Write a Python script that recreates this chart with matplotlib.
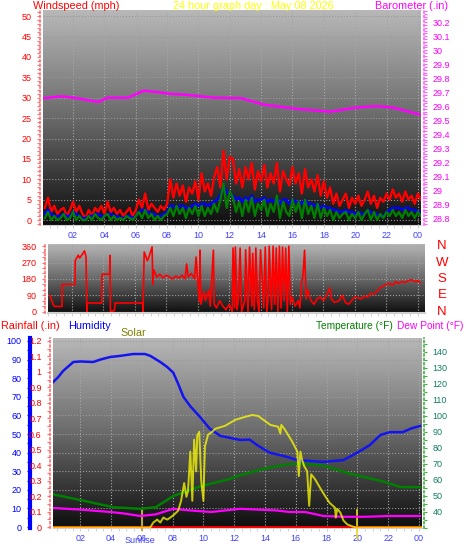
import numpy as np
import matplotlib
matplotlib.use('Agg')
from matplotlib import pyplot as plt
from matplotlib.colors import LinearSegmentedColormap
from matplotlib.ticker import MultipleLocator, FixedLocator
import matplotlib.transforms as mtrans

plt.rcParams['font.family'] = ['Liberation Sans', 'DejaVu Sans']

# ---- data ----
# wind (mph), one sample every 12 minutes from 00:12
wind_hours = np.linspace(0.2, 24.2, 121)
gust = [3.0, 5.5, 2.0, 3.5, 1.5, 2.5, 3.0, 1.0, 2.5, 4.5,
        2.0, 3.5, 1.5, 0.5, 2.5, 1.0, 3.0, 2.0, 3.5, 1.5,
        4.5, 2.0, 3.0, 1.5, 2.5, 1.0, 2.0, 3.0, 1.0, 2.5,
        5.0, 3.0, 6.5, 2.5, 4.0, 3.0, 2.0, 3.5, 2.5, 4.0,
        10.0, 5.5, 9.0, 6.0, 8.5, 4.5, 8.0, 6.5, 9.5, 5.0,
        11.5, 7.0, 9.0, 6.0, 10.5, 13.0, 8.0, 17.0, 10.0, 15.5,
        15.0, 9.0, 12.5, 8.0, 13.0, 10.0, 14.0, 7.5, 12.0, 9.5,
        13.5, 8.0, 11.5, 9.0, 14.0, 7.0, 12.0, 10.0, 8.5, 13.0,
        9.0, 11.5, 6.5, 12.5, 8.0, 10.0, 7.0, 11.0, 6.0, 9.5,
        5.5, 8.0, 4.0, 6.5, 3.5, 5.0, 6.5, 3.0, 5.5, 4.0,
        6.0, 3.5, 5.0, 7.0, 4.0, 6.0, 3.0, 5.5, 4.5, 6.5,
        5.0, 7.5, 5.5, 6.5, 4.5, 7.0, 5.0, 6.0, 4.0, 6.5, 5.0]
avg = [1.5, 2.5, 1.5, 1.0, 1.0, 1.0, 1.5, 1.0, 1.0, 2.0,
       1.5, 1.0, 0.5, 0.5, 1.0, 1.0, 1.5, 1.5, 1.0, 1.0,
       1.5, 1.5, 1.0, 1.0, 0.5, 0.5, 1.0, 1.0, 0.5, 1.0,
       2.0, 2.5, 2.5, 2.0, 1.5, 1.5, 1.0, 1.0, 1.5, 2.0,
       3.5, 3.5, 3.0, 3.5, 3.5, 3.0, 3.0, 3.5, 4.0, 3.5,
       4.0, 4.0, 3.5, 4.0, 4.5, 5.0, 6.0, 8.5, 7.0, 6.0,
       6.0, 5.0, 5.5, 4.5, 5.5, 5.0, 6.0, 4.5, 5.0, 5.0,
       5.5, 4.5, 5.0, 4.5, 5.5, 4.0, 5.0, 5.0, 4.0, 5.0,
       4.5, 4.5, 4.0, 5.0, 4.0, 4.0, 3.5, 4.0, 3.0, 3.5,
       3.0, 3.0, 2.5, 2.5, 2.0, 2.0, 2.5, 2.0, 2.0, 1.5,
       2.0, 1.5, 1.5, 2.5, 2.0, 1.5, 1.5, 1.0, 1.0, 2.0,
       2.5, 3.0, 3.0, 3.0, 2.5, 3.0, 3.0, 2.5, 2.5, 2.0, 2.0]
speed = [0.5, 2.0, 0.0, 1.0, 0.0, 0.5, 1.5, 0.0, 0.5, 2.0,
         0.0, 1.0, 0.0, 0.0, 1.0, 0.0, 1.5, 0.5, 0.0, 1.0,
         1.5, 0.0, 1.0, 0.0, 0.5, 0.0, 1.0, 0.5, 0.0, 1.0,
         2.0, 0.5, 2.5, 0.5, 1.5, 0.0, 1.0, 0.0, 1.0, 1.5,
         3.0, 1.0, 3.5, 1.5, 3.0, 0.5, 3.0, 1.5, 3.5, 1.0,
         3.5, 1.0, 3.0, 1.5, 4.0, 2.0, 5.0, 9.0, 3.0, 7.0,
         5.5, 2.0, 4.5, 1.0, 5.0, 2.0, 5.5, 1.0, 4.0, 2.5,
         5.0, 1.0, 4.0, 2.0, 6.0, 0.5, 4.5, 2.0, 1.0, 5.0,
         2.0, 4.5, 0.5, 5.0, 1.5, 3.5, 0.5, 4.0, 0.5, 3.0,
         1.0, 2.5, 0.0, 2.0, 0.5, 1.5, 2.0, 0.0, 1.5, 0.5,
         2.0, 0.0, 1.5, 2.5, 0.0, 2.0, 0.0, 1.5, 0.5, 2.0,
         1.0, 2.5, 1.0, 2.0, 0.5, 2.5, 1.0, 2.0, 0.5, 2.0, 1.0]

baro_hours = [0.16, 1.24, 2.07, 3.6, 4.2, 5.5, 6.5, 7.4, 8.0, 9.3, 11.0,
              12.7, 14.2, 16.3, 18.4, 20.1, 21.4, 22.4, 24.1]
baro = [29.657, 29.67, 29.66, 29.63, 29.66, 29.66, 29.71, 29.70, 29.69, 29.68,
        29.66, 29.657, 29.61, 29.58, 29.56, 29.59, 29.60, 29.59, 29.54]

dir_hours = [0.6, 0.8, 0.9, 1.37, 1.38, 2.2, 2.21, 2.4, 2.5, 2.7, 2.8, 2.9, 2.95,
             2.97, 3.9, 3.92, 4.4, 4.42, 4.45, 4.7, 4.75, 6.5, 6.52, 6.6, 6.8,
             6.9, 7.1, 7.15, 7.2, 7.4, 7.6, 7.8, 8.0, 8.2, 8.4, 8.6, 8.8, 9.0,
             9.2, 9.3, 9.4, 9.6, 9.8, 9.9, 10.0, 10.1, 10.15, 10.2, 10.4, 10.5,
             10.7, 10.8, 11.0, 11.05, 11.2, 11.4, 11.6, 11.8, 12.0, 12.2, 12.25,
             12.35, 12.4, 12.5, 12.6, 12.7, 12.8, 13.0, 13.05, 13.2, 13.3, 13.45,
             13.5, 13.6, 13.7, 13.8, 13.9, 14.0, 14.2, 14.3, 14.4, 14.5, 14.55,
             14.7, 14.8, 14.9, 15.0, 15.1, 15.2, 15.3, 15.4, 15.5, 15.6, 15.7,
             15.8, 15.9, 16.0, 16.2, 16.4, 16.5, 16.6, 16.7, 16.8, 16.9, 17.0,
             17.2, 17.4, 17.6, 17.8, 18.0, 18.2, 18.4, 18.5, 18.7, 19.0, 19.2,
             19.4, 19.6, 19.8, 20.0, 20.2, 20.4, 20.6, 20.8, 21.0, 21.2, 21.4,
             21.6, 21.8, 22.0, 22.2, 22.4, 22.6, 22.8, 23.0, 23.2, 23.4, 23.6,
             23.8, 24.0, 24.15]
dir_deg = [90, 40, 28, 28, 150, 150, 280, 310, 295, 320, 334, 300, 0,
           47, 47, 206, 206, 309, 0, 5, 47, 47, 0, 328, 280,
           300, 356, 150, 230, 190, 205, 185, 200, 190, 180, 195, 185, 200,
           180, 262, 190, 210, 180, 300, 180, 56, 338, 40, 110, 60,
           120, 30, 338, 40, 20, 60, 30, 10, 40, 0, 350,
           20, 355, 10, 80, 350, 0, 60, 340, 0, 355, 30,
           320, 10, 350, 60, 0, 340, 20, 355, 0, 100, 360,
           10, 360, 40, 350, 0, 360, 20, 355, 60, 350, 0,
           360, 40, 80, 30, 60, 20, 150, 200, 338, 70, 120,
           60, 40, 70, 80, 60, 90, 130, 70, 50, 60, 90,
           50, 40, 60, 80, 75, 70, 85, 80, 100, 95, 110,
           130, 140, 150, 155, 145, 165, 155, 165, 160, 170, 175,
           165, 170, 160]

hum_hours = [0.25, 0.57, 0.9, 1.55, 2.0, 2.84, 3.3, 3.95, 4.6, 5.44, 6.2, 6.55,
             7.2, 7.65, 8.04, 8.36, 8.7, 9.14, 9.8, 10.4, 11.1, 12.4, 13.0, 13.5,
             14.3, 15.3, 16.1, 16.9, 17.8, 19.1, 20.0, 20.8, 21.5, 22.1, 22.95,
             23.5, 24.07]
humidity = [78, 80.6, 84, 88.7, 89, 88.7, 90, 91.4, 92, 93, 93, 92,
            88.7, 86, 83, 77, 70, 65, 59, 53, 49, 46.8, 47, 44,
            40, 38, 36, 35.5, 35, 36, 40, 44, 49.5, 51, 51,
            53, 54.3]

temp_hours = [0.25, 2.0, 4.15, 5.9, 6.9, 8.04, 9.8, 11.7, 12.4, 13.9, 15.6,
              16.6, 17.8, 19.5, 21.7, 22.8, 24.07]
temperature = [51, 47.5, 43, 42, 43, 50, 56, 60.6, 63, 67, 70,
               70, 69, 64, 59, 55.6, 55.5]

dew_hours = [0.25, 2.0, 3.95, 4.9, 5.9, 6.9, 8.04, 9.1, 10.5, 12.4, 13.5, 14.7,
             15.6, 16.6, 17.8, 19.2, 20.4, 22.1, 24.07]
dew_point = [42.5, 41.5, 40, 39, 37.5, 38.5, 42, 41, 40, 42, 41.5, 41,
             40, 40, 37.5, 37, 37, 37.5, 37.5]

solar_hours = [0.25, 6.5, 6.55, 6.74, 7.0, 7.2, 7.4, 7.65, 7.85, 8.1, 8.36, 8.55,
               8.75, 8.9, 9.0, 9.15, 9.28, 9.4, 9.53, 9.6, 9.73, 9.86, 10.0,
               10.1, 10.3, 10.57, 10.77, 11.4, 12.07, 12.7, 13.17, 13.55, 13.9,
               14.35, 14.86, 15.0, 15.06, 15.3, 15.77, 16.1, 16.2, 16.3, 16.4,
               16.55, 16.74, 16.87, 17.0, 17.25, 17.58, 17.9, 18.2, 18.55, 18.6,
               18.7, 18.9, 19.1, 19.35, 19.7, 19.9, 24.2]
solar = [0, 0, 0, 26, 42, 26, 53, 42, 53, 69, 90, 143,
         238, 164, 196, 407, 143, 471, 301, 492, 513, 249, 143,
         434, 497, 513, 529, 545, 577, 593, 603, 598, 577,
         550, 540, 503, 550, 524, 460, 407, 275, 407, 365,
         328, 301, 116, 285, 259, 212, 169, 132, 106, 53,
         100, 79, 37, 16, 5, 0, 0]

rain_hours = [0.25, 24.2]
rain = [0.0, 0.0]

sunrise_hour = 6.0
sunset_hour = 20.0

hour_ticks = [2, 4, 6, 8, 10, 12, 14, 16, 18, 20, 22, 24]
hour_labels = ['02', '04', '06', '08', '10', '12', '14', '16', '18', '20', '22', '00']
dir_ticks = [0, 90, 180, 270, 360]
compass = ['N', 'E', 'S', 'W', 'N']

# ---- figure ----
W, H = 470, 554
PT = 0.72  # points per pixel at 100 dpi
fig = plt.figure(figsize=(4.7, 5.54), dpi=100)
fig.patch.set_facecolor('white')

def box(left, top, right, bottom):
    return [left / W, 1 - bottom / H, (right - left) / W, (bottom - top) / H]

def ftext(x, y, s, **kw):
    fig.text(x / W, 1 - y / H, s, **kw)

bg = LinearSegmentedColormap.from_list('bg', ['#0e0e0e', '#6a6a6a', '#b8b8b8'])
time_blue = '#4040ff'

def shade(ax, xlim, ylim):
    grad = np.linspace(1, 0, 256).reshape(-1, 1)
    ax.imshow(grad, extent=[xlim[0], xlim[1], ylim[0], ylim[1]], aspect='auto',
              cmap=bg, vmin=0, vmax=1, zorder=0, interpolation='bilinear')
    ax.set_xlim(xlim)
    ax.set_ylim(ylim)

def time_axis(ax, labels=True):
    ax.xaxis.set_major_locator(FixedLocator(hour_ticks))
    ax.xaxis.set_minor_locator(MultipleLocator(0.5))
    ax.grid(True, axis='x', which='major', color='#a8a8a8', ls=':', lw=0.8)
    ax.tick_params(axis='x', which='both', colors='#c8c8c8', length=2, width=0.6)
    if labels:
        ax.set_xticklabels(hour_labels)
        ax.tick_params(axis='x', labelcolor=time_blue, labelsize=6.5, pad=2)
    else:
        ax.set_xticklabels([])

def styled_spine(ax, side, color, out_px, ls=':', lw=1.2):
    for s in ['top', 'bottom', 'left', 'right']:
        if s != side:
            ax.spines[s].set_visible(False)
    ax.spines[side].set_visible(True)
    ax.spines[side].set_position(('outward', out_px * PT))
    ax.spines[side].set_color(color)
    ax.spines[side].set_linestyle(ls)
    ax.spines[side].set_linewidth(lw)

def short_fmt(v, p):
    return ('%.1f' % v).rstrip('0').rstrip('.')

# ---- panel 1: wind speed / barometer ----
ax1 = fig.add_axes(box(43, 10, 421, 225))
shade(ax1, (0.08, 24.2), (-1.2, 51.5))
time_axis(ax1)
ax1.yaxis.set_major_locator(MultipleLocator(5))
ax1.yaxis.set_minor_locator(MultipleLocator(1))
ax1.grid(True, axis='y', which='major', color='#9a9a9a', ls=':', lw=0.8)
ax1.tick_params(axis='y', which='both', colors='#ff7070', labelcolor='#ff0000',
                labelsize=6.5, length=2.5, width=0.8)
styled_spine(ax1, 'left', '#ff7070', 3)
ax1.spines['bottom'].set_visible(True)
ax1.spines['bottom'].set_color('#d0d0d0')
ax1.plot(wind_hours, gust, color='#ff0000', lw=1.7, zorder=2)
ax1.plot(wind_hours, avg, color='#0000ff', lw=1.8, zorder=3)
ax1.plot(wind_hours, speed, color='#008000', lw=1.6, zorder=4)

ax1b = ax1.twinx()
ax1b.set_ylim(28.75, 30.287)
ax1b.yaxis.set_major_locator(MultipleLocator(0.1))
ax1b.yaxis.set_minor_locator(MultipleLocator(0.02))
ax1b.yaxis.set_major_formatter(plt.FuncFormatter(short_fmt))
ax1b.tick_params(axis='y', which='both', colors='#ff60ff', labelcolor='#ff00ff',
                 labelsize=6.5, length=2.5, width=0.8)
styled_spine(ax1b, 'right', '#ff60ff', 3)
ax1b.plot(baro_hours, baro, color='#ff00ff', lw=1.8)

ftext(33, 9, 'Windspeed (mph)', color='#ff0000', fontsize=7.8, va='baseline')
ftext(173, 9, '24 hour graph day : May 08 2026', color='#ffff00', fontsize=7.8, va='baseline')
ftext(375, 9, 'Barometer (.in)', color='#ff00ff', fontsize=7.8, va='baseline')

# ---- panel 2: wind direction ----
ax2 = fig.add_axes(box(48, 244, 425, 313))
shade(ax2, (0.48, 24.46), (-8, 372))
time_axis(ax2, labels=False)
ax2.yaxis.set_major_locator(FixedLocator(dir_ticks))
ax2.yaxis.set_minor_locator(MultipleLocator(30))
ax2.grid(True, axis='y', which='major', color='#a0a0a0', ls=':', lw=0.8)
ax2.tick_params(axis='y', which='both', colors='#ff7070', labelcolor='#ff0000',
                labelsize=6.5, length=2.5, width=0.8)
styled_spine(ax2, 'left', '#ff7070', 3)
ax2.spines['bottom'].set_visible(True)
ax2.spines['bottom'].set_color('#d0d0d0')
ax2.spines['bottom'].set_linewidth(1.5)
ax2.plot(dir_hours, dir_deg, color='#ff0000', lw=1.2)
for deg, name in zip(dir_ticks, compass):
    ax2.text(1.045, deg, name, transform=mtrans.blended_transform_factory(ax2.transAxes, ax2.transData),
             color='#ff0000', fontsize=9.5, ha='center', va='center')

# ---- panel 3: humidity / rain / temperature / solar ----
ax3 = fig.add_axes(box(53, 338, 422, 528))
shade(ax3, (0.23, 24.2), (-0.5, 101.6))
time_axis(ax3)
ax3.yaxis.set_major_locator(MultipleLocator(10))
ax3.yaxis.set_minor_locator(MultipleLocator(5))
ax3.grid(True, axis='y', which='major', color='#9a9a9a', ls=':', lw=0.8)
ax3.tick_params(axis='y', which='both', colors='#0000ff', labelcolor='#0000ff',
                labelsize=6.5, length=2.5, width=0.8)
styled_spine(ax3, 'left', '#0000ff', 23, ls='-', lw=3)
ax3.spines['bottom'].set_visible(True)
ax3.spines['bottom'].set_color('#d0d0d0')
ax3.plot(hum_hours, humidity, color='#1414f0', lw=1.8, zorder=3)

ax3t = ax3.twinx()
ax3t.set_ylim(30, 148.7)
ax3t.set_yticks([40, 50, 60, 70, 80, 90, 100, 110, 120, 130, 140])
ax3t.yaxis.set_minor_locator(MultipleLocator(5))
ax3t.tick_params(axis='y', which='both', colors='#40b040', labelcolor='#108060',
                 labelsize=6.5, length=2.5, width=0.8)
styled_spine(ax3t, 'right', '#40b040', 2)
ax3t.plot(temp_hours, temperature, color='#008000', lw=1.8)
ax3t.plot(dew_hours, dew_point, color='#ff00ff', lw=1.6)

ax3r = ax3.twinx()
ax3r.yaxis.tick_left()
ax3r.set_ylim(-0.006, 1.219)
ax3r.yaxis.set_major_locator(MultipleLocator(0.1))
ax3r.yaxis.set_minor_locator(MultipleLocator(0.05))
ax3r.yaxis.set_major_formatter(plt.FuncFormatter(short_fmt))
ax3r.tick_params(axis='y', which='both', colors='#ff7070', labelcolor='#ff0000',
                 labelsize=6.5, length=2.5, width=0.8)
styled_spine(ax3r, 'left', '#ff7070', 3)
ax3r.plot(rain_hours, rain, color='#ff0000', lw=2)

ax3s = ax3.twinx()
ax3s.set_ylim(-3, 1016)
ax3s.axis('off')
ax3s.plot(solar_hours, solar, color='#ffff00', lw=1.4, alpha=0.75)

ax3.axvline(sunrise_hour, ymin=-0.01, ymax=0.095, color='#b8a848', lw=1.5, clip_on=False, zorder=5)
ax3.axvline(sunset_hour, ymin=-0.05, ymax=0.095, color='#e8d820', lw=1.2, clip_on=False, zorder=5)
ax3.text(sunrise_hour - 0.1, -0.065, 'Sunrise', color=time_blue, fontsize=6.5, ha='center', va='center',
         transform=mtrans.blended_transform_factory(ax3.transData, ax3.transAxes))

ftext(1, 329, 'Rainfall (.in)', color='#ff0000', fontsize=7.8, va='baseline')
ftext(68, 329, 'Humidity', color='#0000ff', fontsize=7.8, va='baseline')
ftext(120, 336, 'Solar', color='#808000', fontsize=7.8, va='baseline')
ftext(316, 329, 'Temperature (\u00b0F)', color='#008000', fontsize=7.3, va='baseline')
ftext(397, 329, 'Dew Point (\u00b0F)', color='#ff00ff', fontsize=7.3, va='baseline')

plt.savefig('out.png', dpi=100)
